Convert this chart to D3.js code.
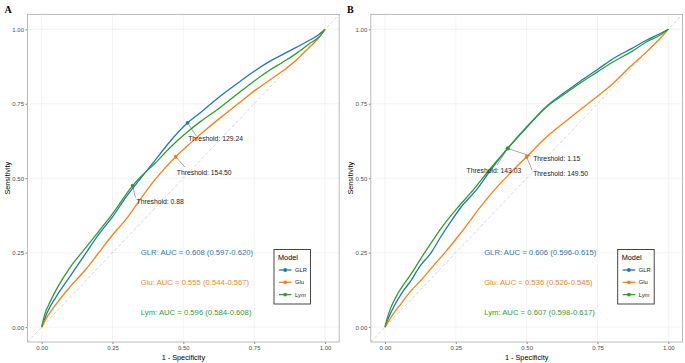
<!DOCTYPE html>
<html lang="en">
<head>
<meta charset="UTF-8">
<title>ROC curves</title>
<script src="https://cdn.jsdelivr.net/npm/d3@7/dist/d3.min.js"></script>
<style>
  body { margin: 0; background: #fff; }
  text { font-family: "Liberation Sans", Arial, sans-serif; }
</style>
</head>
<body>
<script>
// ---- data (fpr, tpr) ----
const models = ["GLR", "Glu", "Lym"];
const colors = ["#1f77b4", "#ff7f0e", "#2ca02c"];
const tickVals = [0, 0.25, 0.5, 0.75, 1];
const tickLabels = ["0.00", "0.25", "0.50", "0.75", "1.00"];

// panel A
const glrA = [[0,0],[0.02,0.05],[0.05,0.10],[0.1,0.17],[0.15,0.24],[0.2,0.31],[0.25,0.37],[0.3,0.44],[0.35,0.50],[0.4,0.56],[0.45,0.62],[0.515,0.686],[0.56,0.72],[0.62,0.768],[0.7,0.825],[0.79,0.884],[0.87,0.925],[0.935,0.958],[0.975,0.98],[1,1]];
const gluA = [[0,0],[0.02,0.035],[0.053,0.08],[0.1,0.135],[0.153,0.191],[0.2,0.248],[0.247,0.306],[0.3,0.365],[0.341,0.42],[0.4,0.495],[0.473,0.572],[0.53,0.622],[0.582,0.665],[0.64,0.71],[0.7,0.755],[0.76,0.8],[0.818,0.838],[0.86,0.867],[0.9,0.898],[0.94,0.935],[0.971,0.964],[1,1]];
const lymA = [[0,0],[0.01,0.04],[0.03,0.085],[0.06,0.14],[0.1,0.2],[0.15,0.26],[0.2,0.32],[0.25,0.38],[0.321,0.475],[0.35,0.505],[0.4,0.55],[0.45,0.6],[0.515,0.656],[0.56,0.69],[0.618,0.729],[0.68,0.775],[0.747,0.824],[0.8,0.86],[0.853,0.891],[0.9,0.92],[0.947,0.953],[0.98,0.975],[1,1]];
const aucA = ["GLR: AUC = 0.608 (0.597-0.620)", "Glu: AUC = 0.555 (0.544-0.567)", "Lym: AUC = 0.596 (0.584-0.608)"];
const cutA = [[0.515,0.686],[0.473,0.572],[0.321,0.475]];
const cutTextA = ["Threshold: 129.24", "Threshold: 154.50", "Threshold: 0.88"];

// panel B
const glrB = [[0,0],[0.012,0.03],[0.032,0.07],[0.06,0.115],[0.093,0.158],[0.12,0.2],[0.163,0.25],[0.195,0.3],[0.228,0.348],[0.27,0.405],[0.322,0.46],[0.375,0.53],[0.433,0.60],[0.5,0.672],[0.571,0.742],[0.63,0.785],[0.688,0.825],[0.75,0.865],[0.806,0.902],[0.87,0.935],[0.924,0.964],[0.97,0.985],[1,1]];
const gluB = [[0,0],[0.03,0.045],[0.058,0.08],[0.09,0.12],[0.128,0.158],[0.17,0.205],[0.216,0.255],[0.25,0.295],[0.287,0.34],[0.33,0.395],[0.381,0.455],[0.44,0.515],[0.5,0.572],[0.571,0.639],[0.63,0.685],[0.688,0.729],[0.75,0.775],[0.806,0.819],[0.865,0.874],[0.924,0.925],[0.977,0.975],[1,1]];
const lymB = [[0,0],[0.008,0.03],[0.022,0.068],[0.045,0.112],[0.075,0.155],[0.1,0.19],[0.14,0.25],[0.175,0.3],[0.211,0.348],[0.26,0.405],[0.311,0.46],[0.37,0.53],[0.433,0.60],[0.5,0.67],[0.571,0.74],[0.63,0.78],[0.688,0.819],[0.75,0.857],[0.806,0.891],[0.87,0.925],[0.924,0.958],[0.97,0.98],[1,1]];
const aucB = ["GLR: AUC = 0.606 (0.596-0.615)", "Glu: AUC = 0.536 (0.526-0.545)", "Lym: AUC = 0.607 (0.598-0.617)"];
const cutB = [[0.433,0.60],[0.50,0.572],[0.433,0.60]];
const cutTextB = ["Threshold: 143.03", "Threshold: 149.50", "Threshold: 1.15"];

// label placement (repel-ish), in data units: [text x, text y, segment end x, segment end y]
const placeA = [[0.517,0.634,0.545,0.642],[0.477,0.519,0.506,0.537],[0.335,0.421,0.331,0.435]];
const placeB = [[0.288,0.525,0.395,0.544],[0.523,0.516,0.519,0.527],[0.523,0.567,0.515,0.574]];

const W = 685, H = 363;
const svg = d3.select("body").append("svg")
  .attr("width", W).attr("height", H)
  .attr("viewBox", [0, 0, W, H]);

function panel(opt) {
  const x = d3.scaleLinear().domain([-0.05, 1.05]).range([opt.left, opt.right]);
  const y = d3.scaleLinear().domain([-0.05, 1.05]).range([342, 14.4]);
  const g = svg.append("g");

  // grid
  g.append("g").selectAll("line").data(tickVals).join("line")
    .attr("x1", d => x(d)).attr("x2", d => x(d))
    .attr("y1", y(-0.05)).attr("y2", y(1.05))
    .attr("stroke", "#ebebeb").attr("stroke-width", 0.6);
  g.append("g").selectAll("line").data(tickVals).join("line")
    .attr("y1", d => y(d)).attr("y2", d => y(d))
    .attr("x1", x(-0.05)).attr("x2", x(1.05))
    .attr("stroke", "#ebebeb").attr("stroke-width", 0.6);

  // axes
  const xAxis = d3.axisBottom(x).tickValues(tickVals).tickFormat((d, i) => tickLabels[i]).tickSize(2).tickPadding(1.5);
  const yAxis = d3.axisLeft(y).tickValues(tickVals).tickFormat((d, i) => tickLabels[i]).tickSize(2).tickPadding(1.5);
  g.append("g").attr("transform", `translate(0,${y(-0.05)})`).call(xAxis)
    .call(a => a.select(".domain").remove())
    .call(a => a.selectAll(".tick line").attr("stroke", "#333").attr("stroke-width", 0.6))
    .call(a => a.selectAll(".tick text").attr("fill", "#4d4d4d").attr("font-size", 6));
  g.append("g").attr("transform", `translate(${x(-0.05)},0)`).call(yAxis)
    .call(a => a.select(".domain").remove())
    .call(a => a.selectAll(".tick line").attr("stroke", "#333").attr("stroke-width", 0.6))
    .call(a => a.selectAll(".tick text").attr("fill", "#4d4d4d").attr("font-size", 6));

  // diagonal reference
  g.append("line")
    .attr("x1", x(-0.05)).attr("y1", y(-0.05)).attr("x2", x(1.05)).attr("y2", y(1.05))
    .attr("stroke", "#c8c8c8").attr("stroke-width", 0.8).attr("stroke-dasharray", "3,2.5");

  // curves
  const line = d3.line().curve(d3.curveMonotoneX).x(d => x(d[0])).y(d => y(d[1]));
  opt.curves.forEach((c, i) => {
    g.append("path").datum(c).attr("d", line)
      .attr("fill", "none").attr("stroke", colors[i]).attr("stroke-width", 1.3)
      .attr("stroke-linejoin", "round");
  });

  // threshold points
  g.append("g").selectAll("circle").data(opt.cuts).join("circle")
    .attr("cx", d => x(d[0])).attr("cy", d => y(d[1])).attr("r", 1.9)
    .attr("fill", (d, i) => colors[i]);

  // label segments + text
  opt.cuts.forEach((c, i) => {
    const p = opt.place[i];
    g.append("line")
      .attr("x1", x(c[0])).attr("y1", y(c[1])).attr("x2", x(p[2])).attr("y2", y(p[3]))
      .attr("stroke", "#666").attr("stroke-width", 0.6);
  });
  opt.cuts.forEach((c, i) => {
    const p = opt.place[i];
    g.append("text").attr("x", x(p[0])).attr("y", y(p[1]))
      .attr("dy", "0.35em").attr("font-size", 6.8).attr("fill", "#222")
      .text(opt.cutText[i]);
  });

  // AUC annotations
  [0.25, 0.15, 0.05].forEach((v, i) => {
    g.append("text").attr("x", x(0.35)).attr("y", y(v)).attr("dy", "0.35em")
      .attr("font-size", 7.7).attr("fill", colors[i]).text(opt.auc[i]);
  });

  // panel border
  g.append("rect")
    .attr("x", x(-0.05)).attr("y", y(1.05))
    .attr("width", x(1.05) - x(-0.05)).attr("height", y(-0.05) - y(1.05))
    .attr("fill", "none").attr("stroke", "#b3b3b3").attr("stroke-width", 0.9);

  // axis titles
  g.append("text").attr("x", x(0.5)).attr("y", 357).attr("dy", "0.35em")
    .attr("text-anchor", "middle").attr("font-size", 7.3).attr("fill", "#000")
    .text("1 - Specificity");
  g.append("text")
    .attr("transform", `translate(${opt.left - 20},${y(0.5)}) rotate(-90)`)
    .attr("dy", "0.35em").attr("text-anchor", "middle").attr("font-size", 7.3).attr("fill", "#000")
    .text("Sensitivity");

  // panel tag
  g.append("text").attr("x", opt.tagX).attr("y", 13)
    .style("font-family", "'Liberation Serif', 'Times New Roman', serif")
    .attr("font-weight", "bold").attr("font-size", 10).text(opt.tag);

  // legend
  const lg = g.append("g").attr("transform", `translate(${opt.legX},249.5)`);
  lg.append("rect").attr("width", 36.5).attr("height", 54.5)
    .attr("fill", "#fff").attr("stroke", "#333").attr("stroke-width", 0.9);
  lg.append("text").attr("x", 4).attr("y", 8).attr("dy", "0.35em")
    .attr("font-size", 7.3).text("Model");
  models.forEach((m, i) => {
    const yy = 20.5 + i * 12.3;
    lg.append("line").attr("x1", 5).attr("x2", 17.5).attr("y1", yy).attr("y2", yy)
      .attr("stroke", colors[i]).attr("stroke-width", 1.3);
    lg.append("circle").attr("cx", 11.2).attr("cy", yy).attr("r", 1.9).attr("fill", colors[i]);
    lg.append("text").attr("x", 21).attr("y", yy).attr("dy", "0.35em")
      .attr("font-size", 5.8).attr("fill", "#222").text(m);
  });
}

panel({ left: 27.5, right: 339.2, tag: "A", tagX: 4.5, legX: 274,
        curves: [glrA, gluA, lymA], cuts: cutA, cutText: cutTextA, place: placeA, auc: aucA });
panel({ left: 370.8, right: 682.5, tag: "B", tagX: 347, legX: 617.7,
        curves: [glrB, gluB, lymB], cuts: cutB, cutText: cutTextB, place: placeB, auc: aucB });
</script>
</body>
</html>
